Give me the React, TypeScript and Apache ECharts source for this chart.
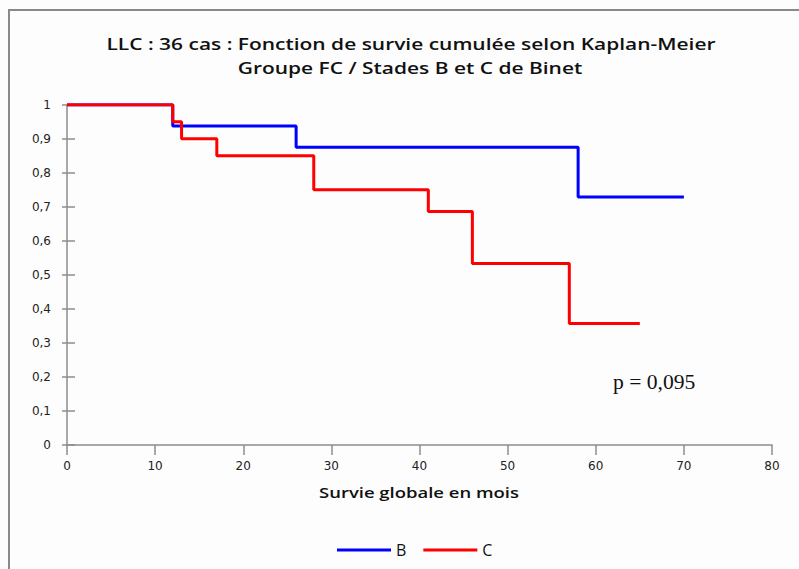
import React, { useEffect, useRef } from "react";
import * as echarts from "echarts";

const titleLines = ["LLC : 36 cas : Fonction de survie cumulée selon Kaplan-Meier", "Groupe FC / Stades B et C de Binet"];
const xAxisName = "Survie globale en mois";
const seriesNames = ["B", "C"];
const seriesColors = ["#0000ff", "#ff0000"];
// [months, cumulative survival]
const survB: [number, number][] = [[0, 1], [12, 0.9375], [26, 0.875], [58, 0.729], [70, 0.729]];
const survC: [number, number][] = [[0, 1], [12, 0.95], [13, 0.9], [17, 0.85], [28, 0.75], [41, 0.686], [46, 0.533], [57, 0.357], [65, 0.357]];
const pValueText = "p = 0,095";

export default function App() {
  const ref = useRef<HTMLDivElement>(null);
  useEffect(() => {
    if (!ref.current) return;
    const chart = echarts.init(ref.current, undefined, { renderer: "svg" });
    const axisGray = "#8c8c8c";
    const labelStyle = { color: "#222", fontFamily: "DejaVu Sans", fontSize: 12 };
    const fmt = (v: number) => String(Math.round(v * 10) / 10).replace(".", ",");
    const titleFont = { fontFamily: "Open Sans", fontSize: 16.5, fontWeight: 600, fill: "#111" };
    chart.setOption({
      animation: false,
      backgroundColor: "#fdfdfd",
      grid: { left: 67, right: 27, top: 104.7, bottom: 124 },
      xAxis: {
        type: "value",
        min: 0,
        max: 80,
        interval: 10,
        axisLine: { show: true, lineStyle: { color: axisGray, width: 1.5 } },
        axisTick: { show: true, length: 10, lineStyle: { color: axisGray, width: 1.5 } },
        axisLabel: { ...labelStyle, margin: 15 },
        splitLine: { show: false },
      },
      yAxis: [
        {
          type: "value",
          min: 0,
          max: 1,
          interval: 0.1,
          axisLine: { show: true, lineStyle: { color: axisGray, width: 1.5 } },
          axisTick: { show: true, length: 5, lineStyle: { color: axisGray, width: 1.5 } },
          axisLabel: { ...labelStyle, margin: 16, formatter: fmt },
          splitLine: { show: false },
        },
        {
          type: "value",
          min: 0,
          max: 1,
          interval: 0.1,
          position: "left",
          axisLine: { show: false },
          axisTick: { show: true, inside: true, length: 8, lineStyle: { color: axisGray, width: 1.5 } },
          axisLabel: { show: false },
          splitLine: { show: false },
        },
      ],
      legend: {
        left: 332,
        top: 537,
        itemWidth: 54,
        itemHeight: 3,
        itemGap: 17,
        icon: "rect",
        textStyle: { fontFamily: "Open Sans", fontSize: 16, color: "#111" },
        data: seriesNames,
      },
      series: [
        { name: seriesNames[0], type: "line", step: "end", data: survB, showSymbol: false, lineStyle: { color: seriesColors[0], width: 3 }, itemStyle: { color: seriesColors[0] }, z: 2 },
        { name: seriesNames[1], type: "line", step: "end", data: survC, showSymbol: false, lineStyle: { color: seriesColors[1], width: 3 }, itemStyle: { color: seriesColors[1] }, z: 3 },
      ],
      graphic: [
        { type: "rect", shape: { x: 9, y: 10, width: 900, height: 700 }, style: { fill: "none", stroke: "#8a8a8a", lineWidth: 2 }, silent: true },
        { type: "text", x: 411, y: 44, scaleX: 1.27, style: { ...titleFont, text: titleLines[0], textAlign: "center", textVerticalAlign: "middle" } },
        { type: "text", x: 410, y: 68, scaleX: 1.27, style: { ...titleFont, text: titleLines[1], textAlign: "center", textVerticalAlign: "middle" } },
        { type: "text", x: 419, y: 492, scaleX: 1.32, style: { text: xAxisName, fontFamily: "Open Sans", fontSize: 14, fontWeight: 600, fill: "#111", textAlign: "center", textVerticalAlign: "middle" } },
        { type: "text", x: 613, y: 382, scaleX: 1.08, style: { text: pValueText, fontFamily: "Liberation Serif", fontSize: 20, fill: "#111", textVerticalAlign: "middle" } },
      ],
    });
    return () => chart.dispose();
  }, []);
  return <div ref={ref} style={{ position: "fixed", left: 0, top: 0, width: 799, height: 569 }} />;
}
